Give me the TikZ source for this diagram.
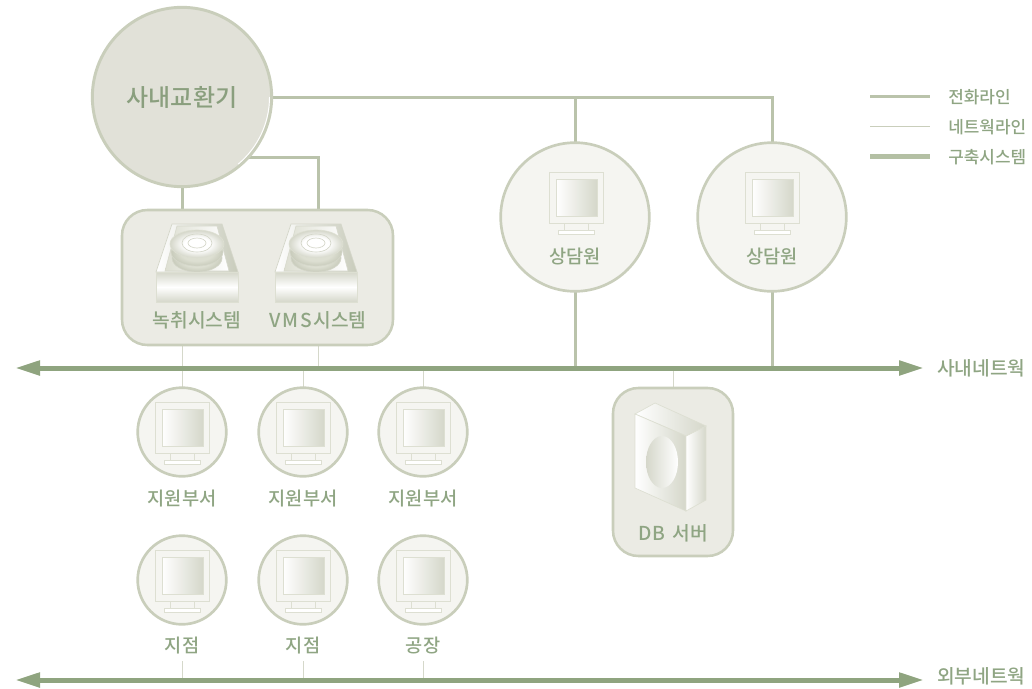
\documentclass[tikz,border=0pt]{standalone}
\usepackage{fontspec}
\setmainfont{Noto Sans CJK KR Medium}
\usetikzlibrary{arrows.meta}
\definecolor{txt}{HTML}{8FA583}
\definecolor{txtd}{HTML}{8A9F7E}
\definecolor{bb}{HTML}{8FA47F}
\definecolor{rim}{HTML}{C9CEBB}
\definecolor{tel}{HTML}{BAC3AB}
\definecolor{net}{HTML}{D5D8CA}
\definecolor{sys}{HTML}{B4C0A4}
\definecolor{pbxf}{HTML}{E1E1D8}
\definecolor{boxf}{HTML}{EBEBE4}
\definecolor{cirf}{HTML}{F5F5F1}
\definecolor{mon}{HTML}{DDDFD2}
\definecolor{grd}{HTML}{D5D7CA}
\definecolor{grdd}{HTML}{C8CBBB}
\pgfdeclareradialshading{discshade}{\pgfpoint{0bp}{0bp}}{color(0bp)=(white);color(12bp)=(white);color(25bp)=(grd);color(50bp)=(grd)}
\pgfdeclareradialshading{lowshade}{\pgfpoint{0bp}{0bp}}{color(0bp)=(mon);color(16bp)=(mon);color(25bp)=(grdd);color(50bp)=(grdd)}
\tikzset{
 tel line/.style={draw=tel,line width=2.25pt,line join=miter},
 net line/.style={draw=net,line width=0.75pt},
 backbone/.style={draw=bb,line width=3.75pt,{Triangle[length=18.75pt,width=10.5pt]}-{Triangle[length=18.75pt,width=10.5pt]}},
 pbxnode/.style={circle,draw=rim,line width=2.2pt,fill=pbxf,minimum size=134.5pt,inner sep=0pt,outer sep=0pt,text=txtd,font=\fontsize{18}{20}\selectfont},
 bigcircle/.style={circle,draw=rim,line width=2pt,fill=cirf,minimum size=111.5pt,inner sep=0pt,outer sep=0pt},
 smallcircle/.style={circle,draw=rim,line width=2pt,fill=cirf,minimum size=66.5pt,inner sep=0pt,outer sep=0pt},
 panel/.style={rectangle,draw=rim,line width=1.9pt,fill=boxf,rounded corners=19pt,inner sep=0pt,outer sep=0pt},
 label/.style={text=txt,inner sep=0pt,yshift=-1pt,font=\fontsize{14}{16}\selectfont},
 labelwide/.style={label,font=\fontsize{14.4}{16}\selectfont},
 legendlabel/.style={text=txt,inner sep=0pt,anchor=west,yshift=-0.5pt,font=\fontsize{12.7}{14}\selectfont},
 monitorpic/.pic={
  \draw[draw=mon,line width=0.75pt,fill=cirf] (-27,-15) rectangle (27,36);
  \shade[left color=white,right color=grd,draw=mon,line width=0.75pt] (-20,-8) rectangle (21,29);
  \draw[draw=mon,line width=0.75pt,fill=cirf] (-12,36) rectangle (12,43);
  \draw[draw=mon,line width=0.75pt,fill=white] (-18,43) rectangle (18,47);
 },
 drivepic/.pic={
  \shade[left color=white,right color=grdd,draw=grd,line width=0.5pt] (-25,-48) -- (25,-48) -- (41,0) -- (-41,0) -- cycle;
  \shade[left color=mon,right color=white,draw=grd,line width=0.4pt] (-20,-46) -- (20,-46) -- (32,-1) -- (-32,-1) -- cycle;
  \shade[shading=lowshade,draw=grd,line width=0.5pt] (0,-14) ellipse [x radius=25,y radius=14];
  \shade[shading=lowshade,draw=grd,line width=0.5pt] (0,-20) ellipse [x radius=26,y radius=14];
  \shade[shading=discshade,draw=mon,line width=0.5pt] (0,-28) ellipse [x radius=27,y radius=14];
  \draw[draw=grd,line width=0.5pt] (0,-29) ellipse [x radius=15,y radius=9];
  \draw[draw=grd,line width=0.5pt,fill=white] (0,-29) ellipse [x radius=9,y radius=5];
  \shade[top color=grd,bottom color=grd,middle color=white,draw=mon,line width=0.5pt] (-41,0) rectangle (41,30);
 },
 dbpic/.pic={
  \shade[left color=white,right color=grd,draw=mon,line width=0.5pt] (-38,-48) -- (-18,-59) -- (33,-36) -- (13,-26) -- cycle;
  \shade[left color=white,right color=grd,draw=mon,line width=0.5pt] (-38,-48) -- (13,-26) -- (13,49) -- (-38,26) -- cycle;
  \shade[left color=white,right color=grd,draw=mon,line width=0.5pt] (13,-26) -- (33,-36) -- (33,38) -- (13,49) -- cycle;
  \shade[left color=grd,right color=white] (-11,0) ellipse [x radius=16,y radius=26];
 }
}
\begin{document}
\begin{tikzpicture}[x=0.75pt,y=-0.75pt]
\useasboundingbox (0,0) rectangle (1032,689);
% free ends
\coordinate (inL) at (15,368);
\coordinate (inR) at (924,368);
\coordinate (exL) at (15,680);
\coordinate (exR) at (924,680);
\coordinate (pbxS) at (245,157);
\coordinate (tapA) at (182,210);
\coordinate (tapB) at (318,210);
\coordinate (tapC) at (182,345);
\coordinate (tapD) at (318,345);
\coordinate (lg1a) at (870,96);
\coordinate (lg1b) at (930,96);
\coordinate (lg2a) at (870,126);
\coordinate (lg2b) at (930,126);
\coordinate (lg3a) at (870,156);
\coordinate (lg3b) at (930,156);
\coordinate (ex1) at (182,680);
\coordinate (ex2) at (303,680);
\coordinate (ex3) at (423,680);
\coordinate (c1) at (182,661);
\coordinate (c2) at (303,661);
\coordinate (c3) at (423,661);
% nodes (positions only; drawn over the lines below)
\path (182,432) node[smallcircle,draw=none,fill=none] (s1) {}
      (303,432) node[smallcircle,draw=none,fill=none] (s2) {}
      (423,432) node[smallcircle,draw=none,fill=none] (s3) {}
      (575,217) node[bigcircle,draw=none,fill=none] (a1) {}
      (772,217) node[bigcircle,draw=none,fill=none] (a2) {}
      (673,472) node[panel,draw=none,fill=none,minimum width=90pt,minimum height=126pt] (db) {}
      (182,97) node[pbxnode,draw=none,fill=none] (pbx) {};
% connectors
\draw[tel line] (pbx.east) -- (a2.north |- pbx.east) -- (a2.north);
\draw[tel line] (a1.north |- pbx.east) -- (a1.north);
\draw[tel line] (pbxS) -- (tapB |- pbxS) -- (tapB);
\draw[tel line] (pbx.south) -- (tapA);
\draw[tel line] (a1.south) -- (a1.south |- inL);
\draw[tel line] (a2.south) -- (a2.south |- inL);
\draw[net line] (tapC) -- (s1.north);
\draw[net line] (tapD |- inL) -- (tapD);
\draw[net line] (s2.north) -- (s2.north |- inL);
\draw[net line] (s3.north) -- (s3.north |- inL);
\draw[net line] (db.north) -- (db.north |- inL);
\draw[net line] (c1) -- (ex1);
\draw[net line] (c2) -- (ex2);
\draw[net line] (c3) -- (ex3);
\draw[backbone] (inL) -- (inR);
\draw[backbone] (exL) -- (exR);
% PBX
\node[pbxnode] (pbxv) at (182,97) {사내교환기};
\draw[white,line width=0.7pt] (182,97) ++(0:87.5) arc[start angle=0,end angle=50,radius=87.5];
% recording panel
\node[panel,minimum width=203.25pt,minimum height=101.25pt] (sysbox) at (257.5,277.5) {};
\pic at (197,272) {drivepic};
\pic at (316,272) {drivepic};
\node[labelwide] (rec) at (197,319) {녹취시스템};
\node[labelwide] (vms) at (318,319) {V\kern1.5pt M\kern1.5pt S\kern1pt 시스템};
% agents
\node[bigcircle] (a1v) at (575,217) {};
\node[bigcircle] (a2v) at (772,217) {};
\pic at (576,187) {monitorpic};
\pic at (772,187) {monitorpic};
\node[label] (a1t) at (575,255) {상담원};
\node[label] (a2t) at (772,255) {상담원};
% db
\node[panel,minimum width=90pt,minimum height=126pt] (dbv) at (673,472) {};
\pic at (673,462) {dbpic};
\node[labelwide] (dbt) at (673,532) {D\kern1pt B\kern2pt{} 서버};
% small circles
\foreach \nm/\x/\y in {p1/182/432,p2/303/432,p3/423/432,q1/182/580,q2/303/580,q3/423/580}{
  \node[smallcircle] (\nm) at (\x,\y) {};
  \pic at (\x,\y-15) {monitorpic};
}
\node[label] (t1) at (182,497) {지원부서};
\node[label] (t2) at (303,497) {지원부서};
\node[label] (t3) at (423,497) {지원부서};
\node[label] (t4) at (182,644) {지점};
\node[label] (t5) at (303,644) {지점};
\node[label] (t6) at (423,644) {공장};
\node[labelwide,anchor=west] (inT) at (937,367) {사내네트웍};
\node[labelwide,anchor=west] (exT) at (937,675) {외부네트웍};
% legend
\draw[tel line] (lg1a) -- (lg1b);
\draw[draw=rim,line width=0.6pt] (lg2a) -- (lg2b);
\draw[draw=sys,line width=3.75pt] (lg3a) -- (lg3b);
\node[legendlabel] (l1) at (948,96) {전화라인};
\node[legendlabel] (l2) at (948,126) {네트웍라인};
\node[legendlabel] (l3) at (948,156) {구축시스템};
\end{tikzpicture}
\end{document}
